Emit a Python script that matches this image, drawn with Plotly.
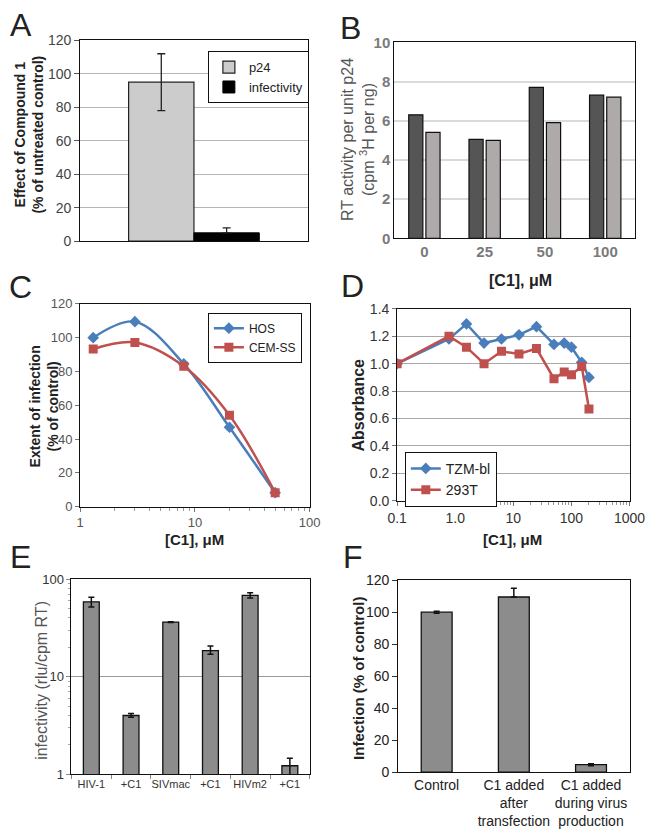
import plotly.graph_objects as go

W, H = 660, 839
FONT = "Liberation Sans, Arial, sans-serif"

# ---------------- data ----------------
# Panel A
a_series = ["p24", "infectivity"]
a_values = [95, 5]
a_err_plus = [17, 3]
a_err_minus = [17, 0]

# Panel B
b_conc = ["0", "25", "50", "100"]
b_dark = [6.3, 5.05, 7.7, 7.3]
b_light = [5.4, 5.0, 5.9, 7.2]

# Panel C
c_conc = [1.3, 3, 8, 20, 50]
c_hos = [100, 109.5, 84.5, 47, 8.3]
c_cem = [93.3, 97.2, 83.1, 54.1, 8.3]

# Panel D
d_conc = [0.1, 0.78, 1.56, 3.13, 6.25, 12.5, 25, 50, 75, 100, 150, 200]
d_tzm = [1.00, 1.18, 1.29, 1.15, 1.18, 1.21, 1.27, 1.14, 1.15, 1.12, 1.01, 0.90]
d_293 = [1.00, 1.20, 1.12, 1.00, 1.09, 1.07, 1.11, 0.89, 0.94, 0.92, 0.98, 0.67]
d_ticks = [0.1, 1, 10, 100, 1000]
d_ticktext = ["0.1", "1.0", "10", "100", "1000"]

# Panel E
e_labels = ["HIV-1", "+C1", "SIVmac", "+C1", "HIVm2", "+C1"]
e_values = [58.6, 4.0, 36.3, 18.5, 68.4, 1.22]
e_err_plus = [6.7, 0.18, 0.4, 2.1, 4.4, 0.24]
e_err_minus = [6.8, 0.17, 0.4, 1.5, 4.1, 0.24]

# Panel F
f_labels = ["Control", "C1 added<br>after<br>transfection", "C1 added<br>during virus<br>production"]
f_values = [100, 109.5, 4.7]
f_err_plus = [0.6, 5.5, 0.6]
f_err_minus = [0.6, 0, 0.6]

# ---------------- helpers ----------------
def xd(a, b):
    return [a / W, b / W]

def yd(top, bottom):
    return [1 - bottom / H, 1 - top / H]

def px(x):
    return x / W

def py(y):
    return 1 - y / H

fig = go.Figure()

# ---- A ----
fig.add_trace(go.Bar(
    x=[0], y=[a_values[0]], name=a_series[0], width=0.287, offset=-0.287,
    marker=dict(color="#cccccc", line=dict(color="#222222", width=1.2)),
    error_y=dict(type="data", array=[a_err_plus[0]], arrayminus=[a_err_minus[0]],
                 color="#222222", thickness=1.3, width=4),
    xaxis="x", yaxis="y", legend="legend"))
fig.add_trace(go.Bar(
    x=[0], y=[a_values[1]], name=a_series[1], width=0.287, offset=0,
    marker=dict(color="#000000", line=dict(color="#000000", width=1)),
    error_y=dict(type="data", array=[a_err_plus[1]], arrayminus=[a_err_minus[1]],
                 color="#222222", thickness=1.3, width=4),
    xaxis="x", yaxis="y", legend="legend"))

# ---- B ----
b_x = list(range(len(b_conc)))
fig.add_trace(go.Bar(
    x=b_x, y=b_dark, width=0.235, offset=-0.26, showlegend=False,
    marker=dict(color="#555555", line=dict(color="#111111", width=1.2)),
    xaxis="x2", yaxis="y2"))
fig.add_trace(go.Bar(
    x=b_x, y=b_light, width=0.235, offset=0.025, showlegend=False,
    marker=dict(color="#aeaaaa", line=dict(color="#111111", width=1.2)),
    xaxis="x2", yaxis="y2"))

# ---- C ----
fig.add_trace(go.Scatter(
    x=c_conc, y=c_hos, name="HOS", mode="lines+markers",
    line=dict(color="#4a7ebb", width=2.5, shape="spline", smoothing=1.0),
    marker=dict(symbol="diamond", size=9, color="#4a7ebb"),
    xaxis="x3", yaxis="y3", legend="legend2"))
fig.add_trace(go.Scatter(
    x=c_conc, y=c_cem, name="CEM-SS", mode="lines+markers",
    line=dict(color="#c0504d", width=2.5, shape="spline", smoothing=1.0),
    marker=dict(symbol="square", size=9, color="#c0504d"),
    xaxis="x3", yaxis="y3", legend="legend2"))

# ---- D ----
fig.add_trace(go.Scatter(
    x=d_conc, y=d_tzm, name="TZM-bl", mode="lines+markers",
    line=dict(color="#4a7ebb", width=2.5),
    marker=dict(symbol="diamond", size=9, color="#4a7ebb"),
    xaxis="x4", yaxis="y4", legend="legend3"))
fig.add_trace(go.Scatter(
    x=d_conc, y=d_293, name="293T", mode="lines+markers",
    line=dict(color="#c0504d", width=2.5),
    marker=dict(symbol="square", size=9, color="#c0504d"),
    xaxis="x4", yaxis="y4", legend="legend3"))

# ---- E ----
e_x = list(range(len(e_labels)))
fig.add_trace(go.Bar(
    x=e_x, y=e_values, width=0.4, showlegend=False,
    marker=dict(color="#8c8c8c", line=dict(color="#111111", width=1.3)),
    error_y=dict(type="data", array=e_err_plus, arrayminus=e_err_minus,
                 color="#111111", thickness=1.5, width=3),
    xaxis="x5", yaxis="y5"))

# ---- F ----
f_x = list(range(len(f_labels)))
fig.add_trace(go.Bar(
    x=f_x, y=f_values, width=0.4, showlegend=False,
    marker=dict(color="#8c8c8c", line=dict(color="#111111", width=1.3)),
    error_y=dict(type="data", array=f_err_plus, arrayminus=f_err_minus,
                 color="#111111", thickness=1.5, width=3),
    xaxis="x6", yaxis="y6"))

box = dict(showline=True, linecolor="#111111", linewidth=1, mirror=True, zeroline=False)

def logminor(lo, hi):
    vals = []
    for dec in range(lo, hi):
        for k in range(2, 10):
            vals.append(k * 10 ** dec)
    return vals

layout = dict(
    width=W, height=H, margin=dict(l=0, r=0, t=0, b=0),
    paper_bgcolor="white", plot_bgcolor="white",
    barmode="overlay", font=dict(family=FONT, color="#222222"),
    # A
    xaxis=dict(domain=xd(73, 310), anchor="y", range=[-0.5, 0.5], showticklabels=False,
               ticks="", showgrid=False, **box),
    yaxis=dict(domain=yd(32, 237), anchor="x", range=[0, 120], dtick=20, ticks="outside",
               ticklen=5, tickcolor="#555", showgrid=True, gridcolor="#b5b5b5", gridwidth=1,
               tickfont=dict(size=14, color="#444444"), **box),
    # B
    xaxis2=dict(domain=xd(400, 651), anchor="y2", range=[-0.5, 3.5], tickvals=b_x,
                ticktext=[f"<b>{c}</b>" for c in b_conc], ticks="", showgrid=False,
                tickfont=dict(size=15, color="#7a7a7a"), **box),
    yaxis2=dict(domain=yd(34, 234), anchor="x2", range=[0, 10], ticks="",
                showgrid=True, gridcolor="#dadada", gridwidth=1.5,
                tickvals=[0, 2, 4, 6, 8, 10], ticktext=[f"<b>{v}</b>" for v in [0, 2, 4, 6, 8, 10]],
                tickfont=dict(size=15, color="#7a7a7a"), **box),
    # C
    xaxis3=dict(domain=xd(73, 312), anchor="y3", type="log", range=[0, 2],
                tickvals=[1, 10, 100], ticktext=["1", "10", "100"], ticks="outside", ticklen=4,
                tickcolor="#777", showgrid=False,
                minor=dict(tickvals=logminor(0, 2), ticks="outside", ticklen=3, tickcolor="#999"),
                tickfont=dict(size=13, color="#555555"), **box),
    yaxis3=dict(domain=yd(301, 508), anchor="x3", range=[0, 120], dtick=20, ticks="outside",
                ticklen=4, tickcolor="#777", showgrid=False,
                tickfont=dict(size=13, color="#555555"), **box),
    # D
    xaxis4=dict(domain=xd(403, 645), anchor="y4", type="log", range=[-1, 3],
                tickvals=d_ticks, ticktext=d_ticktext, ticks="outside", ticklen=4,
                tickcolor="#777", showgrid=False,
                minor=dict(tickvals=logminor(-1, 3), ticks="outside", ticklen=3, tickcolor="#999"),
                tickfont=dict(size=14, color="#333333"), **box),
    yaxis4=dict(domain=yd(306, 502), anchor="x4", range=[0, 1.4], dtick=0.2, tickformat=".1f",
                ticks="outside", ticklen=4, tickcolor="#777", showgrid=True,
                gridcolor="#a8a8a8", gridwidth=1,
                tickfont=dict(size=14, color="#333333"), **box),
    # E
    xaxis5=dict(domain=xd(64, 312), anchor="y5", range=[-0.5, 5.5], tickvals=e_x,
                ticktext=e_labels, ticks="", showgrid=False,
                minor=dict(tickvals=[i - 0.5 for i in range(len(e_labels) + 1)], ticks="outside",
                           ticklen=4, tickcolor="#888"),
                tickfont=dict(size=11, color="#333333"), **box),
    yaxis5=dict(domain=yd(582, 781), anchor="x5", type="log", range=[0, 2],
                tickvals=[1, 10, 100], ticktext=["1", "10", "100"], ticks="outside", ticklen=4,
                tickcolor="#888", showgrid=True, gridcolor="#999999", gridwidth=1,
                minor=dict(tickvals=logminor(0, 2), ticks="outside", ticklen=2, tickcolor="#aaa"),
                tickfont=dict(size=13, color="#333333"), **box),
    # F
    xaxis6=dict(domain=xd(404, 645), anchor="y6", range=[-0.5, 2.5], tickvals=f_x,
                ticktext=f_labels, ticks="", showgrid=False,
                tickfont=dict(size=14, color="#222222"), **box),
    yaxis6=dict(domain=yd(583, 779), anchor="x6", range=[0, 120], dtick=20, ticks="outside",
                ticklen=5, tickcolor="#333", showgrid=False,
                tickfont=dict(size=14, color="#222222"), **box),
    legend=dict(x=px(206), y=py(43), xanchor="left", yanchor="top", bgcolor="white",
                bordercolor="#111111", borderwidth=1, font=dict(size=13, color="#222222"),
                itemwidth=30, tracegroupgap=0),
    legend2=dict(x=px(206), y=py(310), xanchor="left", yanchor="top", bgcolor="white",
                 bordercolor="#111111", borderwidth=1, font=dict(size=12, color="#222222"),
                 itemwidth=30, tracegroupgap=0),
    legend3=dict(x=px(411), y=py(452), xanchor="left", yanchor="top", bgcolor="white",
                 bordercolor="#111111", borderwidth=1, font=dict(size=14, color="#222222"),
                 itemwidth=30, tracegroupgap=0),
)
fig.update_layout(**layout)

ann = []
def add_text(text, x, y, size, color="#222222", angle=0):
    ann.append(dict(text=text, x=px(x), y=py(y), xref="paper", yref="paper",
                    xanchor="center", yanchor="middle", showarrow=False, textangle=angle,
                    font=dict(family=FONT, size=size, color=color)))

# panel letters
for letter, x, y in [("A", 11, 16), ("B", 354, 19), ("C", 11, 284), ("D", 357, 283),
                     ("E", 11, 559), ("F", 357, 559)]:
    add_text(letter, x, y, 32, "#222222")

# axis titles
add_text("<b>Effect of Compound 1<br>(% of untreated control)</b>", 20, 128, 14, "#222222", -90)
add_text("RT activity per unit p24<br>(cpm <sup>3</sup>H per ng)", 363, 133, 16, "#555555", -90)
add_text("<b>[C1], μM</b>", 531, 277, 16, "#222222")
add_text("<b>Extent of infection<br>(% of control)</b>", 35, 406, 14, "#222222", -90)
add_text("<b>[C1], μM</b>", 192, 541, 15, "#222222")
add_text("<b>Absorbance</b>", 363, 404, 16, "#222222", -90)
add_text("<b>[C1], μM</b>", 523, 541, 15, "#222222")
add_text("infectivity (rlu/cpm RT)", 32, 685, 16, "#555555", -90)
add_text("<b>Infection (% of control)</b>", 362, 683, 15, "#222222", -90)

fig.update_layout(annotations=ann)
fig.write_html(
    "out.html",
    config={"displayModeBar": False},
    post_script=("document.body.style.margin='0';"
                 "document.body.style.overflow='hidden';"
                 "document.documentElement.style.overflow='hidden';"),
)
